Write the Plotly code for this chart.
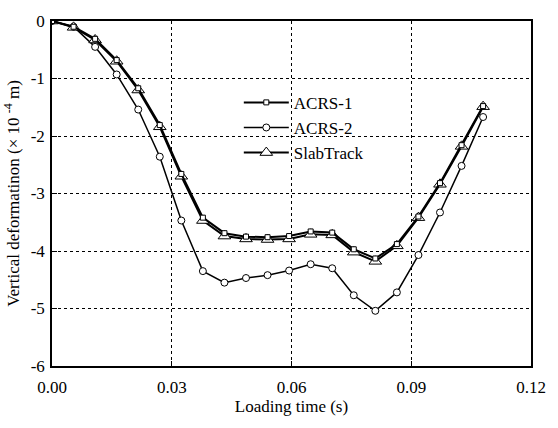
import plotly.graph_objects as go

time_s = [0.0, 0.0054, 0.0108, 0.0162, 0.0216, 0.027, 0.0324, 0.0378, 0.0432, 0.0486,
          0.054, 0.0594, 0.0648, 0.0702, 0.0756, 0.081, 0.0864, 0.0918, 0.0972, 0.1026, 0.108]
acrs1 = [0, -0.10, -0.31, -0.68, -1.17, -1.81, -2.66, -3.42, -3.69, -3.75, -3.76, -3.74,
         -3.66, -3.68, -3.97, -4.13, -3.88, -3.40, -2.82, -2.16, -1.48]
acrs2 = [0, -0.10, -0.45, -0.93, -1.54, -2.36, -3.47, -4.35, -4.55, -4.47, -4.42, -4.34,
         -4.23, -4.30, -4.77, -5.04, -4.72, -4.07, -3.33, -2.52, -1.67]
slab = [0, -0.11, -0.33, -0.70, -1.20, -1.84, -2.70, -3.47, -3.74, -3.79, -3.80, -3.79,
        -3.71, -3.72, -4.02, -4.18, -3.91, -3.42, -2.84, -2.18, -1.49]

y_tickvals = [0, -1, -2, -3, -4, -5, -6]
y_ticktext = ["0", "-1", "-2", "-3", "-4", "-5", "-6"]
x_tickvals = [0.0, 0.03, 0.06, 0.09, 0.12]
x_ticktext = ["0.00", "0.03", "0.06", "0.09", "0.12"]

FONT = "Liberation Serif, Times New Roman, serif"
FS = 17

fig = go.Figure()
fig.add_trace(go.Scatter(x=time_s, y=acrs2, name="ACRS-2", mode="lines+markers", legendrank=2,
                         line=dict(color="black", width=1.5),
                         marker=dict(symbol="circle", size=7, color="white",
                                     line=dict(color="black", width=1))))
fig.add_trace(go.Scatter(x=time_s, y=slab, name="SlabTrack", mode="lines+markers", legendrank=3,
                         line=dict(color="black", width=2),
                         marker=dict(symbol="triangle-up", size=11, color="white",
                                     line=dict(color="black", width=1))))
fig.add_trace(go.Scatter(x=time_s, y=acrs1, name="ACRS-1", mode="lines+markers", legendrank=1,
                         line=dict(color="black", width=2),
                         marker=dict(symbol="square", size=5, color="white",
                                     line=dict(color="black", width=1))))

axis_common = dict(showline=True, linecolor="black", linewidth=1.5, mirror=True,
                   ticks="inside", ticklen=5, tickcolor="black",
                   showgrid=True, gridcolor="black", griddash="dot", gridwidth=1.2,
                   zeroline=False, tickfont=dict(family=FONT, size=FS, color="black"))

fig.update_xaxes(range=[0, 0.12], tickmode="array", tickvals=x_tickvals, ticktext=x_ticktext,
                 ticklabelstandoff=5,
                 title=dict(text="Loading time (s)", font=dict(family=FONT, size=FS, color="black"),
                            standoff=0),
                 **axis_common)
fig.update_yaxes(range=[-6, 0], tickmode="array", tickvals=y_tickvals, ticktext=y_ticktext,
                 ticklabelstandoff=2,
                 title=dict(text="Vertical deformatinon (× 10 <sup>-4</sup> m)",
                            font=dict(family=FONT, size=FS, color="black"), standoff=7),
                 **axis_common)

fig.update_layout(width=558, height=428, margin=dict(l=50, r=21, t=14, b=62),
                  paper_bgcolor="white", plot_bgcolor="white",
                  font=dict(family=FONT, size=FS, color="black"),
                  legend=dict(x=0.39, y=0.815, xanchor="left", yanchor="top",
                              bgcolor="rgba(0,0,0,0)", borderwidth=0,
                              font=dict(family=FONT, size=FS, color="black"),
                              tracegroupgap=0, itemwidth=45))

fig.write_html("out.html")
